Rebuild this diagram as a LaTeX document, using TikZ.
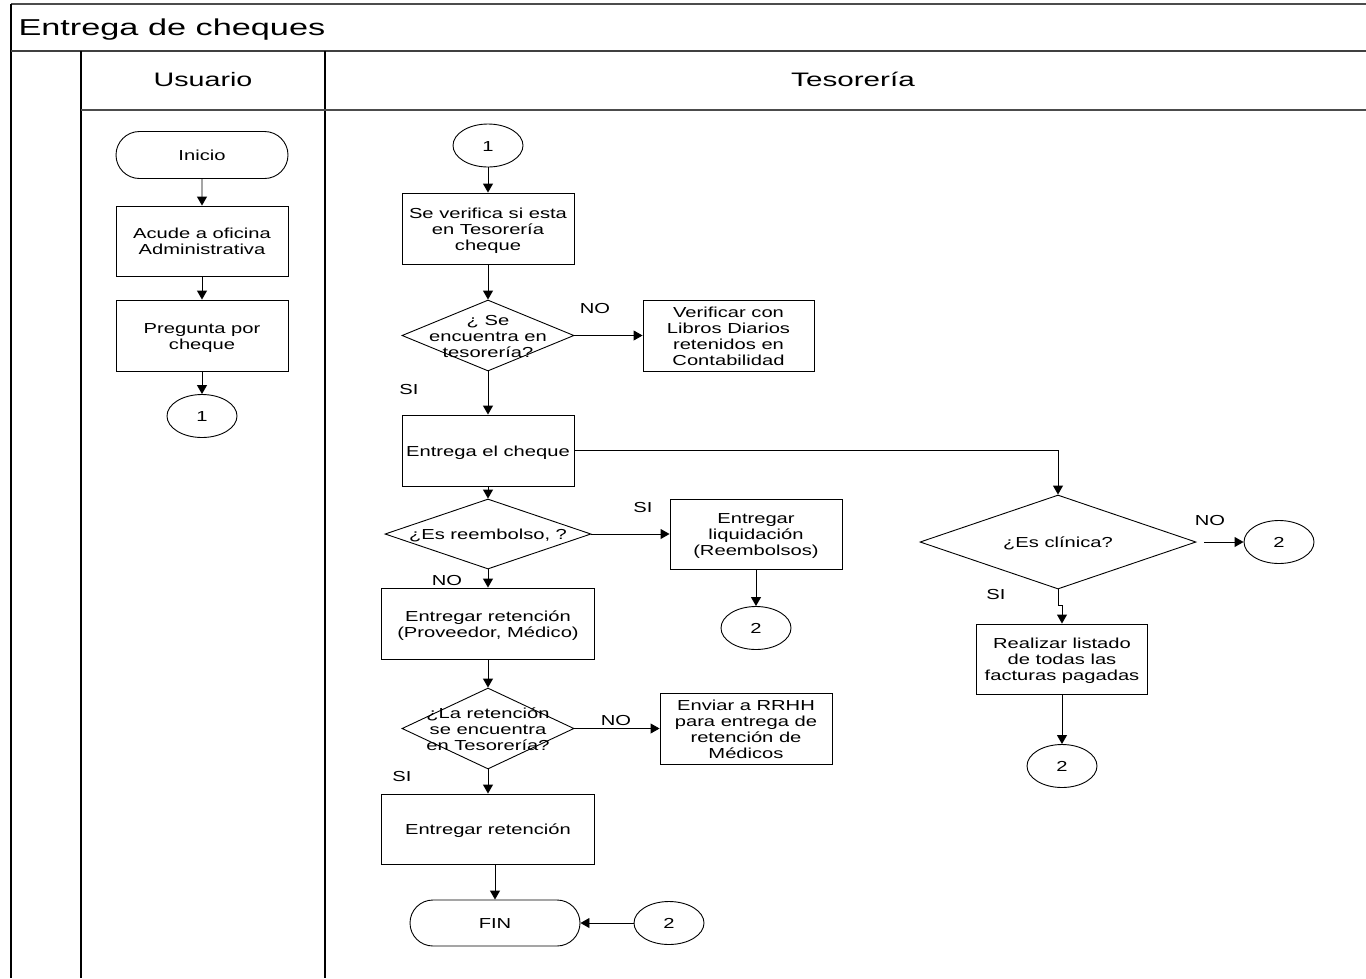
\documentclass[tikz,border=0pt]{standalone}
\usepackage{fontspec}
\setmainfont{Liberation Sans}
\usepackage{graphicx}
\usetikzlibrary{shapes.geometric,shapes.misc,arrows.meta}
% horizontally widened, centred block of lines, nudged down inside its node
\newcommand\wide[2][1.39]{\raisebox{-2.5pt}[\height][\depth]{\scalebox{#1}[1]{\begin{tabular}{@{}c@{}}#2\end{tabular}}}}

\begin{document}
\begin{tikzpicture}[x=1pt,y=-1pt,
  every node/.style={font=\fontsize{14.5}{16}\selectfont},
  box/.style={draw, line width=0.9pt, rectangle, inner sep=0pt, minimum width=172pt, minimum height=71pt},
  term/.style={draw, line width=0.9pt, rounded rectangle, inner sep=0pt, minimum width=172pt, minimum height=47pt},
  conn/.style={draw, line width=0.9pt, ellipse, inner sep=0pt, minimum width=70pt, minimum height=43pt},
  dec/.style={draw, line width=0.9pt, diamond, inner sep=0pt},
  flow/.style={line width=0.9pt, -{Triangle[width=10pt,length=9pt]}},
  lane/.style={line width=1.6pt},
  tag/.style={inner sep=0pt},
]
\useasboundingbox (0,0) rectangle (1366,978);

% pool frame and lanes
\draw[lane, black!70] (11,4) -- (1366,4);
\draw[lane] (11,4) -- (11,978);
\draw[lane, black!75, line width=2.4pt] (11,51) -- (1366,51);
\draw[lane] (81,51) -- (81,978);
\draw[lane] (325,51) -- (325,978);
\draw[lane, black!70] (81,110) -- (1366,110);

\node[anchor=west, font=\fontsize{23}{26}\selectfont] (title) at (15,28) {\wide[1.49]{Entrega de cheques}};
\node[font=\fontsize{19.5}{22}\selectfont] (hUsuario) at (203,80) {\wide[1.47]{Usuario}};
\node[font=\fontsize{19.5}{22}\selectfont] (hTesoreria) at (853,80) {\wide[1.52]{Tesorería}};

% Usuario lane
\node[term] (inicio) at (202,155) {\wide{Inicio}};
\node[box, minimum height=70pt] (acude) at (202,241) {\wide{Acude a oficina\\Administrativa}};
\node[box] (pregunta) at (202,335.5) {\wide{Pregunta por\\cheque}};
\node[conn] (u1) at (202,416) {\wide{1}};

% Tesoreria lane
\node[conn] (t1) at (488,145.5) {\wide{1}};
\node[box] (verif) at (488,228.5) {\wide{Se verifica si esta\\en Tesorería\\cheque}};
\node[dec, minimum width=172pt, minimum height=71pt,
      label={center:{\wide{¿ Se\\encuentra en\\tesorería?}}}] (d1) at (488,335.5) {};
\node[box, minimum width=171pt] (libros) at (728.5,335.5) {\wide{Verificar con\\Libros Diarios\\retenidos en\\Contabilidad}};
\node[box] (entrega) at (488,450.5) {\wide{Entrega el cheque}};
\node[dec, minimum width=206pt, minimum height=70pt,
      label={center:{\wide{¿Es reembolso, ?}}}] (dre) at (488,534) {};
\node[box, minimum height=70pt] (liq) at (756,534) {\wide{Entregar\\liquidación\\(Reembolsos)}};
\node[conn] (l2) at (756,628) {\wide{2}};
\node[box, minimum width=213pt] (retprov) at (488,623.5) {\wide{Entregar retención\\(Proveedor, Médico)}};
\node[dec, minimum width=172pt, minimum height=81pt,
      label={center:{\wide{¿La retención\\se encuentra\\en Tesorería?}}}] (dret) at (488,728.5) {};
\node[box] (rrhh) at (746,728.5) {\wide{Enviar a RRHH\\para entrega de\\retención de\\Médicos}};
\node[box, minimum width=213pt, minimum height=70pt] (entret) at (488,829) {\wide{Entregar retención}};
\node[term, minimum width=170pt, minimum height=46pt] (fin) at (495,923) {\wide{FIN}};
\node[conn] (f2) at (669,923) {\wide{2}};
\node[dec, minimum width=276pt, minimum height=94pt,
      label={center:{\wide{¿Es clínica?}}}] (dcl) at (1058,542) {};
\node[conn] (c2) at (1279,542) {\wide{2}};
\node[box, minimum width=171pt, minimum height=70pt] (real) at (1062,659) {\wide{Realizar listado\\de todas las\\facturas pagadas}};
\node[conn] (r2) at (1062,766) {\wide{2}};

% branch labels
\node[tag] (no1) at (595,308) {\wide{NO}};
\node[tag] (si1) at (409,389) {\wide{SI}};
\node[tag] (si2) at (643,507) {\wide{SI}};
\node[tag] (no2) at (447,580) {\wide{NO}};
\node[tag] (no3) at (616,720) {\wide{NO}};
\node[tag] (si3) at (402,776) {\wide{SI}};
\node[tag] (no4) at (1210,520) {\wide{NO}};
\node[tag] (si4) at (996,594) {\wide{SI}};

% connectors
\draw[flow] (inicio) -- (acude);
\draw[flow] (acude) -- (pregunta);
\draw[flow] (pregunta) -- (u1);
\draw[flow] (t1) -- (verif);
\draw[flow] (verif) -- (d1);
\draw[flow] (d1.east) -- (libros.west);
\draw[flow] (d1.south) -- (entrega.north);
\draw[flow] (entrega.east) -| (dcl.north);
\draw[flow] (entrega.south) -- (dre.north);
\draw[flow] (dre.east) -- (liq.west);
\draw[flow] (liq) -- (l2);
\draw[flow] (dre.south) -- (retprov.north);
\draw[flow] (retprov.south) -- (dret.north);
\draw[flow] (dret.east) -- (rrhh.west);
\draw[flow] (dret.south) -- (entret.north);
\draw[flow] (fin.north |- entret.south) -- (fin.north);
\draw[flow] (f2.west) -- (fin.east);
\draw[flow] ([xshift=8pt]dcl.east) -- (c2.west);
\draw[flow] (dcl.south) -- ++(0,16) -| ([xshift=4pt]dcl.south |- real.north);
\draw[flow] (real) -- (r2);
\end{tikzpicture}
\end{document}
